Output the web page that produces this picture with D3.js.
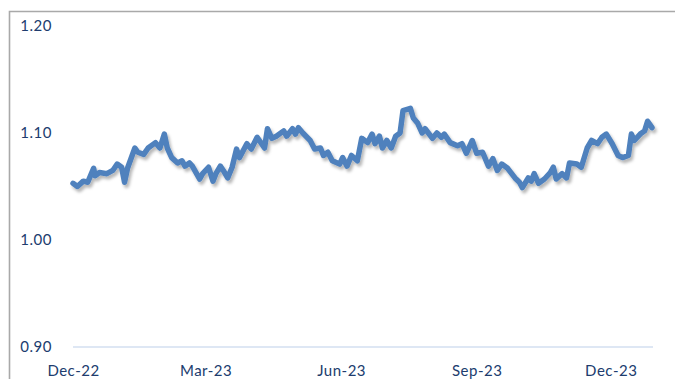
<!DOCTYPE html>
<html>
<head>
<meta charset="utf-8">
<script src="https://cdn.jsdelivr.net/npm/d3@7"></script>
<style>
  html, body { margin: 0; padding: 0; background: #fff; }
  svg { display: block; }
</style>
</head>
<body>
<svg id="chart" width="675" height="379"></svg>
<script>
const dates = [
  "2022-12-01","2022-12-04","2022-12-08","2022-12-11","2022-12-15","2022-12-16","2022-12-19","2022-12-24","2022-12-28","2022-12-31",
  "2023-01-03","2023-01-05","2023-01-07","2023-01-12","2023-01-14","2023-01-18","2023-01-21","2023-01-26","2023-01-29","2023-02-01",
  "2023-02-03","2023-02-06","2023-02-10","2023-02-13","2023-02-15","2023-02-18","2023-02-20","2023-02-25","2023-02-27","2023-03-03",
  "2023-03-06","2023-03-08","2023-03-11","2023-03-13","2023-03-16","2023-03-19","2023-03-22","2023-03-24","2023-03-29","2023-04-01",
  "2023-04-05","2023-04-08","2023-04-10","2023-04-12","2023-04-15","2023-04-18","2023-04-23","2023-04-25","2023-04-29","2023-05-01",
  "2023-05-03","2023-05-06","2023-05-11","2023-05-14","2023-05-18","2023-05-20","2023-05-23","2023-05-26","2023-05-31","2023-06-02",
  "2023-06-05","2023-06-08","2023-06-12","2023-06-15","2023-06-19","2023-06-22","2023-06-24","2023-06-27","2023-06-29","2023-07-02",
  "2023-07-05","2023-07-08","2023-07-11","2023-07-13","2023-07-18","2023-07-20","2023-07-23","2023-07-26","2023-07-28","2023-08-02",
  "2023-08-05","2023-08-08","2023-08-10","2023-08-14","2023-08-19","2023-08-22","2023-08-25","2023-08-29","2023-09-01","2023-09-05",
  "2023-09-09","2023-09-12","2023-09-15","2023-09-18","2023-09-22","2023-09-27","2023-09-30","2023-10-02","2023-10-06","2023-10-08",
  "2023-10-10","2023-10-13","2023-10-17","2023-10-21","2023-10-23","2023-10-25","2023-10-29","2023-11-01","2023-11-03","2023-11-08",
  "2023-11-11","2023-11-15","2023-11-18","2023-11-22","2023-11-25","2023-11-28","2023-12-02","2023-12-06","2023-12-09","2023-12-13",
  "2023-12-15","2023-12-17","2023-12-21","2023-12-24","2023-12-26","2023-12-29"
];
const values = [
  1.053,1.050,1.055,1.054,1.067,1.060,1.063,1.062,1.065,1.071,
  1.068,1.054,1.067,1.086,1.082,1.080,1.086,1.091,1.086,1.099,
  1.086,1.077,1.072,1.074,1.069,1.072,1.069,1.057,1.062,1.068,
  1.055,1.062,1.069,1.065,1.058,1.068,1.085,1.077,1.090,1.085,
  1.096,1.090,1.086,1.104,1.095,1.097,1.102,1.097,1.104,1.099,
  1.105,1.100,1.093,1.085,1.086,1.079,1.082,1.074,1.071,1.077,
  1.069,1.079,1.074,1.095,1.091,1.099,1.090,1.097,1.086,1.093,
  1.086,1.097,1.100,1.121,1.123,1.114,1.109,1.100,1.104,1.095,
  1.100,1.096,1.099,1.091,1.088,1.090,1.081,1.093,1.081,1.082,
  1.069,1.076,1.065,1.071,1.067,1.058,1.054,1.049,1.058,1.055,
  1.062,1.053,1.057,1.063,1.068,1.057,1.062,1.058,1.072,1.071,
  1.068,1.086,1.093,1.090,1.096,1.099,1.090,1.079,1.077,1.079,
  1.099,1.093,1.099,1.102,1.111,1.105
];
const yTicks = [0.90, 1.00, 1.10, 1.20];
const xTickDates = ["2022-12-01","2023-03-01","2023-06-01","2023-09-01","2023-12-01"];
const xTickLabels = ["Dec-22","Mar-23","Jun-23","Sep-23","Dec-23"];

const parse = d3.timeParse("%Y-%m-%d");
const data = dates.map((d, i) => ({ date: parse(d), value: values[i] }));

const svg = d3.select("#chart");

const x = d3.scaleTime()
  .domain([parse("2022-12-01"), parse("2023-12-29")])
  .range([73, 652]);
const y = d3.scaleLinear().domain([0.9, 1.2]).range([347, 26]);

// frame
svg.append("path")
  .attr("d", "M9.5,379 L9.5,11.5 L675,11.5")
  .attr("fill", "none")
  .attr("stroke", "#a9a9a9")
  .attr("stroke-width", 1.6);

// drop shadow filter
const defs = svg.append("defs");
const f = defs.append("filter").attr("id", "shadow")
  .attr("x", "-5%").attr("y", "-20%").attr("width", "110%").attr("height", "140%");
f.append("feDropShadow")
  .attr("dx", 2).attr("dy", 3).attr("stdDeviation", 1.6)
  .attr("flood-color", "#000").attr("flood-opacity", 0.28);

// baseline axis
svg.append("line")
  .attr("x1", 73).attr("x2", 653)
  .attr("y1", y(0.9)).attr("y2", y(0.9))
  .attr("stroke", "#d3dff0").attr("stroke-width", 1.5);

// y labels
const yAxis = d3.axisLeft(y).tickValues(yTicks).tickFormat(d3.format(".2f")).tickSize(0).tickPadding(0);
const yg = svg.append("g").attr("transform", "translate(52,0)").call(yAxis);
yg.select(".domain").remove();
yg.selectAll("text")
  .attr("font-family", "Lato, 'Open Sans', sans-serif")
  .attr("font-size", 15)
  .attr("fill", "#203c6e")
  .attr("dy", "0.32em")
  .style("letter-spacing", "0.5px");

// x labels
const xAxis = d3.axisBottom(x)
  .tickValues(xTickDates.map(parse))
  .tickFormat((d, i) => xTickLabels[i])
  .tickSize(0).tickPadding(0);
const xg = svg.append("g").attr("transform", "translate(0,371)").call(xAxis);
xg.select(".domain").remove();
xg.selectAll("text")
  .attr("font-family", "Lato, 'Open Sans', sans-serif")
  .attr("font-size", 15)
  .attr("fill", "#203c6e")
  .attr("dy", "0.3em")
  .style("letter-spacing", "0.5px");

// line
const line = d3.line().x(d => x(d.date)).y(d => y(d.value)).curve(d3.curveLinear);
svg.append("path")
  .datum(data)
  .attr("d", line)
  .attr("fill", "none")
  .attr("stroke", "#4f81bd")
  .attr("stroke-width", 5.5)
  .attr("stroke-linejoin", "round")
  .attr("stroke-linecap", "round")
  .attr("filter", "url(#shadow)");
</script>
</body>
</html>
